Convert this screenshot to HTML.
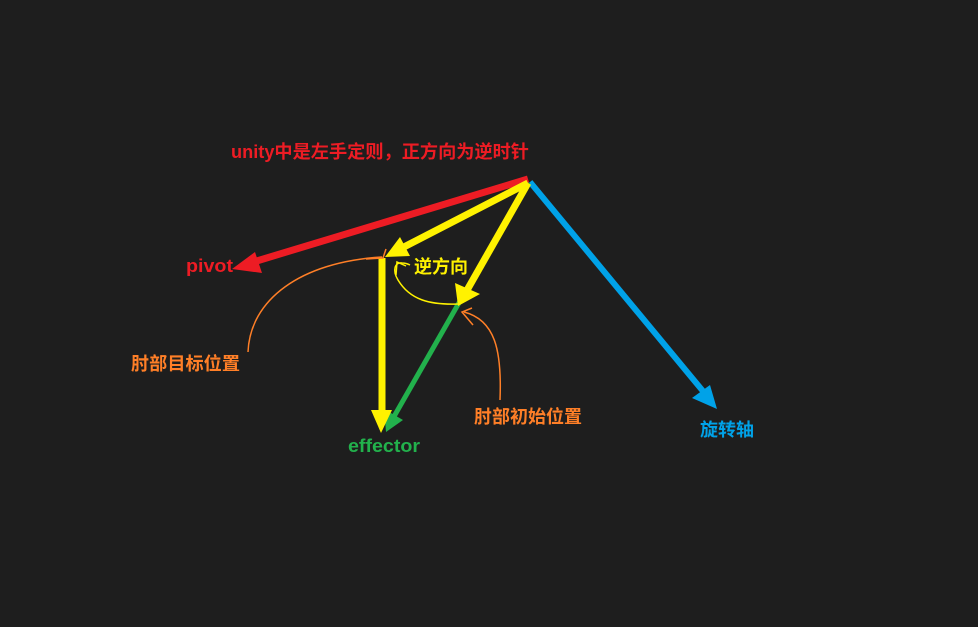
<!DOCTYPE html>
<html><head><meta charset="utf-8"><style>
html,body{margin:0;padding:0;background:#1e1e1e;}
svg{display:block}
text{font-family:"Liberation Sans","Noto Sans CJK SC",sans-serif;font-weight:bold;}
</style></head><body>
<svg width="978" height="627" viewBox="0 0 978 627">
<rect width="978" height="627" fill="#1e1e1e"/>
<text x="231" y="158" font-size="18" fill="#ed1c24" textLength="298" lengthAdjust="spacingAndGlyphs">unity中是左手定则，正方向为逆时针</text>

<g>
<line x1="530" y1="182" x2="707" y2="396" stroke="#00a2e8" stroke-width="6"/>
<polygon points="717,409 692,398 710,385" fill="#00a2e8"/>
</g>
<text x="700" y="436" font-size="18" fill="#00a2e8">旋转轴</text>

<g>
<line x1="528" y1="182" x2="392" y2="420" stroke="#22b14c" stroke-width="5"/>
<polygon points="386,432 384,409 403,420" fill="#22b14c"/>
</g>

<g>
<line x1="528" y1="179" x2="250" y2="263" stroke="#ed1c24" stroke-width="7"/>
<polygon points="232,269 255,252 262,273" fill="#ed1c24"/>
</g>
<text x="186" y="272" font-size="18" fill="#ed1c24" textLength="47" lengthAdjust="spacingAndGlyphs">pivot</text>

<g>
<line x1="528" y1="183" x2="400" y2="249" stroke="#fff200" stroke-width="7"/>
<polygon points="385,257 400,237 410,256" fill="#fff200"/>
<line x1="528" y1="183" x2="466" y2="292" stroke="#fff200" stroke-width="7"/>
<polygon points="458,306 455,283 480,294" fill="#fff200"/>
<line x1="382" y1="258" x2="382" y2="414" stroke="#fff200" stroke-width="7"/>
<polygon points="381,433 371,410 392,410" fill="#fff200"/>
<path d="M458,304 C430,305 410,300 398,280 C392,270 395,262 402,263 C406,263 408,264 410,265" fill="none" stroke="#fff200" stroke-width="1.5"/>
<path d="M396,275 L397,262 L406,266" fill="none" stroke="#fff200" stroke-width="1.5"/>
</g>
<text x="414" y="273" font-size="18" fill="#fff200">逆方向</text>

<g fill="none" stroke="#ff7f27" stroke-width="1.5">
<path d="M248,352 C250,300 300,262 382,257"/>
<path d="M366,259 L383,258 L386,249"/>
<path d="M500,400 C502,350 495,320 464,312"/>
<path d="M472,308 L462,312 L473,325"/>
</g>
<text x="131" y="370" font-size="18" fill="#ff7f27" textLength="109" lengthAdjust="spacingAndGlyphs">肘部目标位置</text>
<text x="474" y="423" font-size="18" fill="#ff7f27" textLength="108" lengthAdjust="spacingAndGlyphs">肘部初始位置</text>
<text x="348" y="452" font-size="18" fill="#22b14c" textLength="72" lengthAdjust="spacingAndGlyphs">effector</text>
</svg>
</body></html>
